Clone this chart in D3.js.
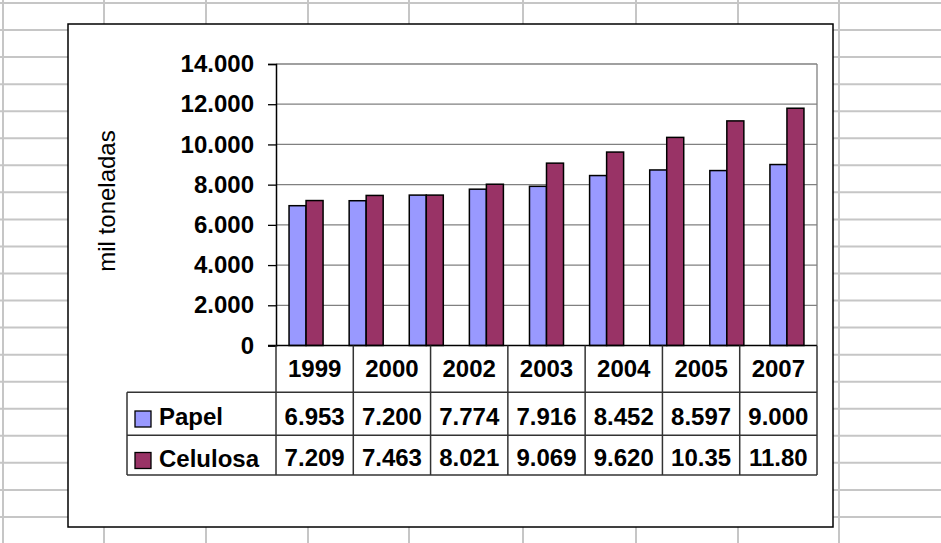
<!DOCTYPE html>
<html>
<head>
<meta charset="utf-8">
<script src="https://cdn.jsdelivr.net/npm/d3@7"></script>
<style>
  body { margin: 0; background: #fff; }
  svg { display: block; font-family: "Liberation Sans", Arial, sans-serif; }
</style>
</head>
<body>
<script>
// values
let tableYears = ['1999', '2000', '2002', '2003', '2004', '2005', '2007'];
let papelTable = ['6.953', '7.200', '7.774', '7.916', '8.452', '8.597', '9.000'];
let celulosaTable = ['7.209', '7.463', '8.021', '9.069', '9.620', '10.35', '11.80'];

// the plot shows 9 bar pairs (more than the table columns)
let papelBars = [6953, 7200, 7480, 7774, 7916, 8452, 8730, 8700, 9000];
let celulosaBars = [7209, 7463, 7480, 8021, 9069, 9620, 10350, 11170, 11800];

let yTicks = [0, 2000, 4000, 6000, 8000, 10000, 12000, 14000];

let width = 941,
    height = 543;

let svg = d3.select("body").append("svg")
    .attr("width", width)
    .attr("height", height);

// spreadsheet cells behind the chart
let sheetCols = [3, 104, 206, 308, 409, 523, 636, 738, 839];
let sheetRows = d3.range(3, height + 1, 27.05);
let sheet = svg.append("g").attr("stroke", "#c6c6c6").attr("stroke-width", 2);
sheet.selectAll("line.row").data(sheetRows).enter().append("line")
    .attr("x1", 0).attr("x2", width)
    .attr("y1", d => d).attr("y2", d => d);
sheet.selectAll("line.col").data(sheetCols).enter().append("line")
    .attr("x1", d => d).attr("x2", d => d)
    .attr("y1", 0).attr("y2", height);

// chart box
svg.append("rect")
    .attr("x", 68).attr("y", 24)
    .attr("width", 765).attr("height", 503)
    .attr("fill", "#fff")
    .attr("stroke", "#000")
    .attr("stroke-width", 1.5);

let plotLeft = 276, plotRight = 817, plotTop = 64, plotBottom = 345.5;

let y = d3.scaleLinear().domain([0, 14000]).range([plotBottom, plotTop]);
let x0 = d3.scaleBand().domain(d3.range(papelBars.length))
    .range([plotLeft, plotRight])
    .paddingInner(0.434).paddingOuter(0.217);
let x1 = d3.scaleBand().domain(['papel', 'celulosa']).range([0, x0.bandwidth()]);
let colors = { papel: '#9999ff', celulosa: '#993366' };

let locale = d3.formatLocale({ decimal: ",", thousands: ".", grouping: [3], currency: ["", ""] });
let fmt = locale.format(",");

// gridlines
svg.append("g").selectAll("line").data(yTicks.slice(1)).enter().append("line")
    .attr("x1", plotLeft).attr("x2", plotRight)
    .attr("y1", d => y(d)).attr("y2", d => y(d))
    .attr("stroke", "#808080").attr("stroke-width", 1.3);
svg.append("line")
    .attr("x1", plotRight).attr("x2", plotRight)
    .attr("y1", plotTop).attr("y2", plotBottom)
    .attr("stroke", "#808080").attr("stroke-width", 1.3);

// bars
let groups = svg.append("g").selectAll("g")
    .data(papelBars.map((p, i) => ({ i: i, papel: p, celulosa: celulosaBars[i] })))
    .enter().append("g")
    .attr("transform", d => `translate(${x0(d.i)},0)`);
groups.selectAll("rect")
    .data(d => ['papel', 'celulosa'].map(k => ({ key: k, value: d[k] })))
    .enter().append("rect")
    .attr("x", d => x1(d.key))
    .attr("width", x1.bandwidth())
    .attr("y", d => y(d.value))
    .attr("height", d => y(0) - y(d.value))
    .attr("fill", d => colors[d.key])
    .attr("stroke", "#000")
    .attr("stroke-width", 1.5);

// y axis
let yAxis = svg.append("g")
    .attr("transform", `translate(${plotLeft},0)`)
    .call(d3.axisLeft(y).tickValues(yTicks).tickSize(8).tickPadding(14).tickFormat(fmt));
yAxis.select(".domain").attr("stroke", "#000").attr("stroke-width", 1.5);
yAxis.selectAll(".tick line").attr("stroke", "#000").attr("stroke-width", 1.3);
yAxis.selectAll(".tick text")
    .attr("font-size", 24).attr("font-weight", "bold")
    .attr("font-family", "Liberation Sans, Arial, sans-serif")
    .attr("fill", "#000");

svg.append("line")
    .attr("x1", plotLeft - 8).attr("x2", plotRight)
    .attr("y1", plotBottom).attr("y2", plotBottom)
    .attr("stroke", "#000").attr("stroke-width", 1.5);

svg.append("text")
    .attr("transform", "translate(115,201) rotate(-90)")
    .attr("text-anchor", "middle")
    .attr("font-size", 24)
    .attr("fill", "#000")
    .text("mil toneladas");

// data table
let cols = d3.scaleBand().domain(tableYears).range([plotLeft, plotRight]);
let tableLeft = 127;
let rowLines = [392.3, 435.3, 475];
let tableBottom = 475;
let table = svg.append("g").attr("stroke", "#333").attr("stroke-width", 1.5);
table.selectAll("line.h").data(rowLines).enter().append("line")
    .attr("x1", tableLeft).attr("x2", plotRight)
    .attr("y1", d => d).attr("y2", d => d);
table.selectAll("line.v").data(tableYears.map(c => cols(c)).concat([plotRight])).enter().append("line")
    .attr("x1", d => d).attr("x2", d => d)
    .attr("y1", plotBottom).attr("y2", tableBottom);
table.append("line")
    .attr("x1", tableLeft).attr("x2", tableLeft)
    .attr("y1", rowLines[0]).attr("y2", tableBottom);

let cellText = svg.append("g")
    .attr("font-size", 24).attr("font-weight", "bold")
    .attr("text-anchor", "middle").attr("fill", "#000");
cellText.selectAll("text.year").data(tableYears).enter().append("text")
    .attr("x", d => cols(d) + cols.bandwidth() / 2)
    .attr("y", 376.5)
    .text(d => d);
cellText.selectAll("text.papel").data(papelTable).enter().append("text")
    .attr("x", (d, i) => cols(tableYears[i]) + cols.bandwidth() / 2)
    .attr("y", 424.5)
    .text(d => d);
cellText.selectAll("text.celulosa").data(celulosaTable).enter().append("text")
    .attr("x", (d, i) => cols(tableYears[i]) + cols.bandwidth() / 2)
    .attr("y", 465.5)
    .text(d => d);

// legend keys inside the table
let legend = [
    { key: 'papel', label: 'Papel', y: 411, base: 425 },
    { key: 'celulosa', label: 'Celulosa', y: 452.5, base: 467 }
];
let lg = svg.append("g").selectAll("g").data(legend).enter().append("g");
lg.append("rect")
    .attr("x", 135).attr("y", d => d.y)
    .attr("width", 16).attr("height", 16)
    .attr("fill", d => colors[d.key])
    .attr("stroke", "#000").attr("stroke-width", 1.3);
lg.append("text")
    .attr("x", 159).attr("y", d => d.base)
    .attr("font-size", 24).attr("font-weight", "bold")
    .attr("fill", "#000")
    .text(d => d.label);
</script>
</body>
</html>
